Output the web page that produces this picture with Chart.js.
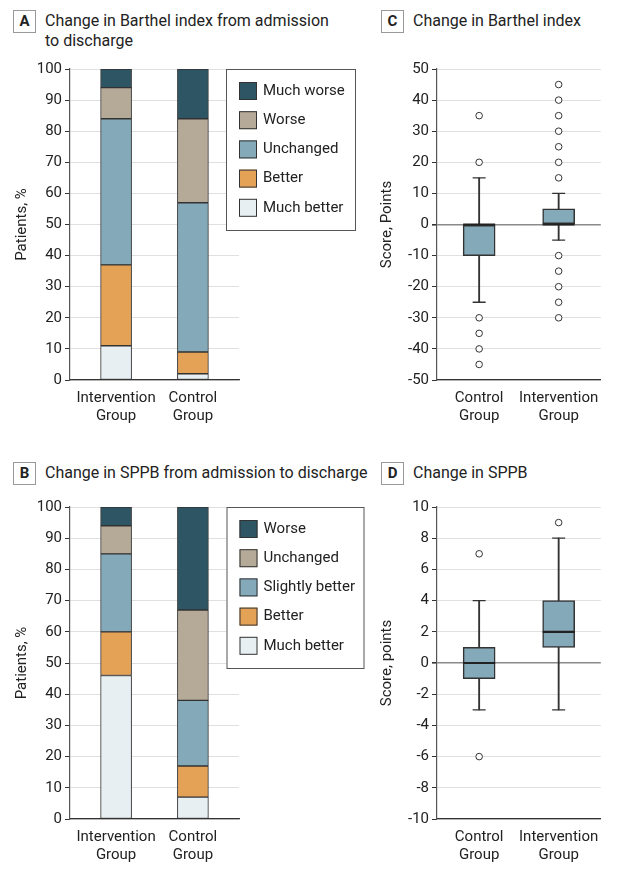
<!DOCTYPE html>
<html>
<head>
<meta charset="utf-8">
<script src="https://cdn.jsdelivr.net/npm/chart.js@4.4.1/dist/chart.umd.min.js"></script>
<style>
body{margin:0;background:#fff;font-family:Roboto,sans-serif;color:#222;}
.wrap{position:relative;width:619px;height:877px;overflow:hidden;}
canvas{position:absolute;}
.tag{position:absolute;width:21px;height:21px;border:1px solid #999;font-weight:bold;font-size:15px;text-align:center;line-height:21px;}
.ttl{position:absolute;font-size:16px;line-height:20px;white-space:nowrap;}
</style>
</head>
<body>
<div class="wrap">
  <div class="tag" style="left:13px;top:10px">A</div>
  <div class="ttl" style="left:45px;top:11px">Change in Barthel index from admission<br>to discharge</div>
  <div class="tag" style="left:381px;top:10px">C</div>
  <div class="ttl" style="left:413px;top:11px">Change in Barthel index</div>
  <div class="tag" style="left:13px;top:462px">B</div>
  <div class="ttl" style="left:45px;top:463px">Change in SPPB from admission to discharge</div>
  <div class="tag" style="left:381px;top:462px">D</div>
  <div class="ttl" style="left:413px;top:463px">Change in SPPB</div>

  <canvas id="chartA" width="370" height="435" style="left:0;top:0"></canvas>
  <canvas id="chartC" width="249" height="435" style="left:370px;top:0"></canvas>
  <canvas id="chartB" width="370" height="437" style="left:0;top:440px"></canvas>
  <canvas id="chartD" width="249" height="437" style="left:370px;top:440px"></canvas>
</div>
<script>
// stacked bars (A, B)
const barGroups = ["Intervention Group", "Control Group"];
const barthelLabels = ["Much better", "Better", "Unchanged", "Worse", "Much worse"];
const barthelIntervention = [11, 26, 47, 10, 6];
const barthelControl = [2, 7, 48, 27, 16];
const sppbLabels = ["Much better", "Better", "Slightly better", "Unchanged", "Worse"];
const sppbIntervention = [46, 14, 25, 9, 6];
const sppbControl = [7, 10, 21, 29, 33];
const stackColors = ["#e8eff2", "#e4a257", "#84a9b9", "#b5aa97", "#2e5563"];

// box plots (C, D): [low whisker, q1, median, q3, high whisker]
const boxGroups = ["Control Group", "Intervention Group"];
const barthelBox = [[-25, -10, 0, 0, 15], [-5, 0, 0, 5, 10]];
const barthelOutliers = [[35, 20, -30, -35, -40, -45], [45, 40, 35, 30, 25, 20, 15, -10, -15, -20, -25, -30]];
const sppbBox = [[-3, -1, 0, 1, 4], [-3, 1, 2, 4, 8]];
const sppbOutliers = [[7, -6], [9]];

const FONT = "Roboto";
const TXT = "#222";

const boxLegend = {
  id: "boxLegend",
  afterDraw(chart, args, o) {
    if (!o || !o.box) return;
    const c = chart.ctx;
    const x = o.box[0], y = o.box[1], w = o.box[2], h = o.box[3];
    c.save();
    c.fillStyle = "#fff";
    c.fillRect(x, y, w, h);
    c.strokeStyle = "#555";
    c.lineWidth = 1;
    c.strokeRect(x + 0.5, y + 0.5, w, h);
    const ds = chart.data.datasets.slice().reverse();
    ds.forEach(function (d, i) {
      const cy = y + 22 + i * 29.2;
      c.fillStyle = d.backgroundColor;
      c.fillRect(x + 13, cy - 9, 18, 18);
      c.strokeStyle = "#333";
      c.strokeRect(x + 13.5, cy - 8.5, 17, 17);
      c.fillStyle = TXT;
      c.font = "15px " + FONT;
      c.textBaseline = "middle";
      c.fillText(d.label, x + 37, cy);
    });
    c.restore();
  }
};

function twoLines(names) {
  return function (v) {
    const n = names[v - 1];
    return n ? n.split(" ") : "";
  };
}

function xAxis(names, lo, hi, xh) {
  return {
    type: "linear", min: lo, max: hi, offset: false, bounds: "data",
    afterBuildTicks: function (s) { s.ticks = [{ value: 1 }, { value: 2 }]; },
    afterFit: function (s) { s.height = xh; },
    grid: { display: false, drawTicks: false },
    border: { color: "#333", width: 1.2 },
    ticks: { callback: twoLines(names), autoSkip: false, padding: 9, color: TXT, font: { family: FONT, size: 15, lineHeight: 1.2 }, maxRotation: 0 }
  };
}

function stackedChart(id, labels, inter, ctrl, top, xh, legendBox) {
  new Chart(id, {
    type: "bar",
    data: {
      datasets: labels.map(function (l, i) {
        return {
          label: l,
          data: [{ x: 1, y: inter[i] }, { x: 2, y: ctrl[i] }],
          backgroundColor: stackColors[i],
          borderColor: "#333",
          borderWidth: 1,
          borderSkipped: false,
          barThickness: 31,
          stack: "s"
        };
      })
    },
    plugins: [boxLegend],
    options: {
      responsive: false,
      animation: false,
      layout: { padding: { left: 0, top: top, right: 131, bottom: 0 } },
      plugins: { legend: { display: false }, tooltip: { enabled: false }, boxLegend: { box: legendBox } },
      scales: {
        x: xAxis(barGroups, 0.4, 2.6, xh),
        y: {
          stacked: true, min: 0, max: 100,
          afterFit: function (s) { s.width = 70; },
          grid: { color: "#e0e0e0", tickColor: "#333", tickLength: 5 },
          border: { color: "#555", width: 1.2 },
          ticks: { stepSize: 10, padding: 3, color: TXT, font: { family: FONT, size: 15 } },
          title: { display: true, text: "Patients, %", color: TXT, font: { family: FONT, size: 15 }, padding: { top: 13, bottom: 0 } }
        }
      }
    }
  });
}

function boxChart(id, box, outliers, yMin, yMax, step, yTitle, top, xh) {
  const whisk = box.map(function (b, i) { return { x: i + 1, y: [b[0], b[4]] }; });
  const boxes = box.map(function (b, i) { return { x: i + 1, y: [b[1], b[3]] }; });
  const caps = [];
  box.forEach(function (b, i) { caps.push({ x: i + 1, y: b[0] }, { x: i + 1, y: b[4] }); });
  const meds = box.map(function (b, i) { return { x: i + 1, y: b[2] }; });
  const outs = [];
  outliers.forEach(function (o, i) { o.forEach(function (v) { outs.push({ x: i + 1, y: v }); }); });

  new Chart(id, {
    type: "bar",
    data: {
      datasets: [
        { type: "bar", data: whisk, barThickness: 1.2, backgroundColor: "#333", grouped: false, order: 4 },
        { type: "bar", data: boxes, barThickness: 32, backgroundColor: "#84a9b9", borderColor: "#333", borderWidth: 1.5, borderSkipped: false, grouped: false, order: 3 },
        { type: "scatter", data: caps, pointStyle: "line", pointRadius: 6.5, pointBorderColor: "#333", pointBorderWidth: 1.3, order: 2 },
        { type: "scatter", data: meds, pointStyle: "line", pointRadius: 16, pointBorderColor: "#222", pointBorderWidth: 2.2, order: 1 },
        { type: "scatter", data: outs, pointStyle: "circle", pointRadius: 3.3, pointBackgroundColor: "#fff", pointBorderColor: "#333", pointBorderWidth: 1, order: 0 }
      ]
    },
    options: {
      responsive: false,
      animation: false,
      layout: { padding: { left: 0, top: top, right: 0, bottom: 0 } },
      plugins: { legend: { display: false }, tooltip: { enabled: false } },
      scales: {
        x: xAxis(boxGroups, 0.47, 2.53, xh),
        y: {
          min: yMin, max: yMax,
          afterFit: function (s) { s.width = 67; },
          grid: {
            color: function (c) { return c.tick && c.tick.value === 0 ? "#8a8a8a" : "#e0e0e0"; },
            lineWidth: function (c) { return c.tick && c.tick.value === 0 ? 1.6 : 1; },
            tickColor: "#333", tickLength: 5
          },
          border: { color: "#555", width: 1.2 },
          ticks: { stepSize: step, padding: 3, color: TXT, font: { family: FONT, size: 15 }, callback: function (v) { return String(v); } },
          title: { display: true, text: yTitle, color: TXT, font: { family: FONT, size: 15 }, padding: { top: 8, bottom: 0 } }
        }
      }
    }
  });
}

stackedChart("chartA", barthelLabels, barthelIntervention, barthelControl, 69, 55, [226, 69, 129, 161]);
stackedChart("chartB", sppbLabels, sppbIntervention, sppbControl, 67, 58, [226.5, 67, 137, 161]);
boxChart("chartC", barthelBox, barthelOutliers, -50, 50, 10, "Score, Points", 69, 55);
boxChart("chartD", sppbBox, sppbOutliers, -10, 10, 2, "Score, points", 67, 58);
</script>
</body>
</html>
